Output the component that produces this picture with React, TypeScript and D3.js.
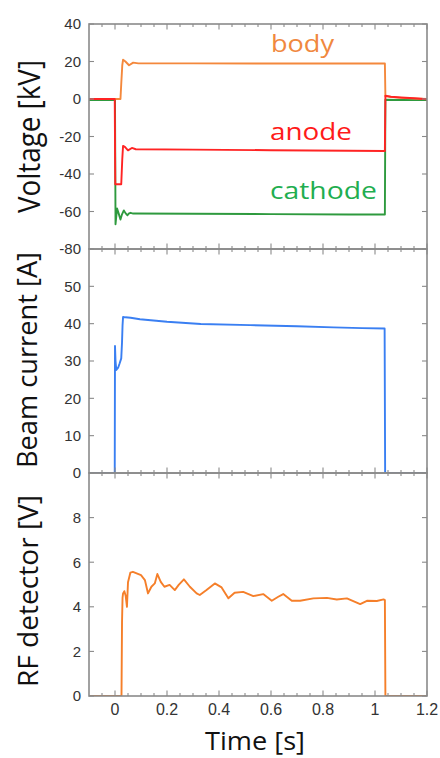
import React from "react";
import * as d3 from "d3";

// tick labels
const timeTicks = [0, 0.2, 0.4, 0.6, 0.8, 1, 1.2];
const voltTicks = [-80, -60, -40, -20, 0, 20, 40];
const currentTicks = [0, 10, 20, 30, 40, 50];
const rfTicks = [0, 2, 4, 6, 8];

// voltage traces [kV]
const bodyT = [-0.1, 0.021, 0.024, 0.028, 0.031, 0.04, 0.054, 0.07, 0.09, 0.3, 0.6, 0.9, 1.038, 1.04, 1.1, 1.2];
const bodyV = [0, 0, 8, 18, 21, 20, 18, 19.4, 19.0, 19.0, 18.9, 18.9, 18.9, 1.5, 0.6, 0];
const anodeT = [-0.1, -0.001, 0.001, 0.024, 0.028, 0.031, 0.038, 0.05, 0.065, 0.08, 0.3, 0.6, 0.9, 1.038, 1.04, 1.06, 1.1, 1.15, 1.2];
const anodeV = [0, 0, -45.5, -45.5, -32, -25, -25.5, -27.4, -26.1, -26.8, -27, -27.3, -27.6, -27.7, 1.8, 1.2, 0.8, 0.4, -0.1];
const cathodeT = [-0.1, 0, 0.002, 0.008, 0.014, 0.021, 0.027, 0.034, 0.041, 0.048, 0.054, 0.06, 0.07, 0.3, 0.6, 0.9, 1.038, 1.04, 1.1, 1.2];
const cathodeV = [-0.6, -0.6, -66.8, -58.4, -61, -64.3, -61.5, -59.4, -61, -62, -61, -60.7, -61.1, -61.2, -61.4, -61.6, -61.6, -0.4, -0.5, -0.6];

// beam current [A]
const beamT = [-0.1, -0.001, 0.0, 0.002, 0.005, 0.012, 0.018, 0.024, 0.027, 0.029, 0.031, 0.04, 0.06, 0.096, 0.2, 0.33, 0.52, 0.7, 0.84, 0.95, 1.037, 1.039, 1.2];
const beamV = [0, 0, 34, 30, 27.6, 28.2, 29.4, 30.7, 35, 39.5, 41.8, 41.7, 41.6, 41.2, 40.5, 39.9, 39.6, 39.3, 39.0, 38.8, 38.7, 0, 0];

// RF detector [V]
const rfT = [-0.1, 0.025, 0.027, 0.029, 0.031, 0.036, 0.041, 0.046, 0.05, 0.059, 0.069, 0.1, 0.115, 0.127, 0.14, 0.153, 0.163, 0.176, 0.19, 0.21, 0.23, 0.245, 0.265, 0.288, 0.314, 0.326, 0.352, 0.384, 0.41, 0.436, 0.46, 0.493, 0.532, 0.57, 0.603, 0.628, 0.647, 0.68, 0.712, 0.763, 0.815, 0.853, 0.892, 0.943, 0.969, 1.007, 1.033, 1.038, 1.04, 1.2];
const rfV = [0, 0, 3.3, 4.4, 4.6, 4.7, 4.5, 4.0, 5.1, 5.53, 5.57, 5.42, 5.2, 4.6, 4.9, 5.05, 5.47, 5.12, 4.9, 4.98, 4.75, 4.98, 5.23, 4.9, 4.6, 4.53, 4.75, 5.05, 4.87, 4.38, 4.63, 4.67, 4.48, 4.57, 4.27, 4.45, 4.57, 4.27, 4.27, 4.38, 4.4, 4.33, 4.38, 4.12, 4.27, 4.26, 4.33, 4.3, 0, 0];

const W = 440;
const H = 758;
const left = 89;
const right = 427;
const frame = "#8a8a8a";
const tickText = "#333";
const labelFont = "'Open Sans', 'Noto Sans', sans-serif";
const tickFont = "'Liberation Sans', Arial, sans-serif";

const x = d3.scaleLinear().domain([-0.1, 1.2]).range([left, right]);
const minorTimes = d3.range(-0.05, 1.2, 0.05).filter(t => Math.abs(t / 0.2 - Math.round(t / 0.2)) > 1e-6);

const zip = (t: number[], v: number[]) => t.map((d, i) => [d, v[i]] as [number, number]);

type PanelProps = {
  top: number;
  bottom: number;
  domain: [number, number];
  ticks: number[];
  series: { t: number[]; v: number[]; color: string }[];
  children?: (y: d3.ScaleLinear<number, number>) => React.ReactNode;
};

const Panel = ({ top, bottom, domain, ticks, series, children }: PanelProps) => {
  const y = d3.scaleLinear().domain(domain).range([bottom, top]);
  const line = d3
    .line<[number, number]>()
    .x(d => x(d[0]))
    .y(d => y(d[1]));
  return (
    <g>
      <defs>
        <clipPath id={`clip-${top}`}>
          <rect x={left} y={top} width={right - left} height={bottom - top} />
        </clipPath>
      </defs>
      <g clipPath={`url(#clip-${top})`}>
        {series.map((s, i) => (
          <path key={i} d={line(zip(s.t, s.v)) || ""} fill="none" stroke={s.color} strokeWidth={1.9} strokeLinejoin="round" />
        ))}
      </g>
      {children && children(y)}
      <g stroke={frame} strokeWidth={1.1}>
        {minorTimes.map(t => (
          <g key={`m${t}`}>
            <line x1={x(t)} x2={x(t)} y1={top} y2={top + 3} />
            <line x1={x(t)} x2={x(t)} y1={bottom} y2={bottom - 3} />
          </g>
        ))}
        {timeTicks.map(t => (
          <g key={`M${t}`}>
            <line x1={x(t)} x2={x(t)} y1={top} y2={top + 5.5} />
            <line x1={x(t)} x2={x(t)} y1={bottom} y2={bottom - 5.5} />
          </g>
        ))}
        {ticks.map(v => (
          <g key={`y${v}`}>
            <line x1={left} x2={left + 5} y1={y(v)} y2={y(v)} />
            <line x1={right} x2={right - 5} y1={y(v)} y2={y(v)} />
          </g>
        ))}
      </g>
      <rect x={left} y={top} width={right - left} height={bottom - top} fill="none" stroke={frame} strokeWidth={1.6} />
      <g fontFamily={tickFont} fontSize={15} fill={tickText} textAnchor="end">
        {ticks.map(v => (
          <text key={v} x={81} y={y(v)} dy="0.36em">
            {v}
          </text>
        ))}
      </g>
    </g>
  );
};

export default function App() {
  const p1: [number, number] = [24, 249];
  const p2: [number, number] = [249, 473];
  const p3: [number, number] = [473, 696];
  return (
    <svg width={W} height={H} style={{ display: "block", position: "absolute", left: 0, top: 0, background: "#fff" }}>
      <Panel
        top={p1[0]}
        bottom={p1[1]}
        domain={[-80, 40]}
        ticks={voltTicks}
        series={[
          { t: cathodeT, v: cathodeV, color: "#2e9a3e" },
          { t: bodyT, v: bodyV, color: "#f4883c" },
          { t: anodeT, v: anodeV, color: "#ff2424" },
        ]}
      >
        {y => (
          <g fontFamily={labelFont} fontSize={24}>
            <text x={x(0.6)} y={y(25)} fill="#f0883e" textLength={63} lengthAdjust="spacingAndGlyphs">body</text>
            <text x={x(0.596)} y={y(-22)} fill="#ff1a1a" textLength={82} lengthAdjust="spacingAndGlyphs">anode</text>
            <text x={x(0.596)} y={y(-53.5)} fill="#1fae50" textLength={107} lengthAdjust="spacingAndGlyphs">cathode</text>
          </g>
        )}
      </Panel>
      <Panel
        top={p2[0]}
        bottom={p2[1]}
        domain={[0, 60]}
        ticks={currentTicks}
        series={[{ t: beamT, v: beamV, color: "#3a7ff2" }]}
      />
      <Panel
        top={p3[0]}
        bottom={p3[1]}
        domain={[0, 10]}
        ticks={rfTicks}
        series={[{ t: rfT, v: rfV, color: "#f57f2a" }]}
      />
      <g fontFamily={tickFont} fontSize={16} fill={tickText} textAnchor="middle">
        {timeTicks.map(t => (
          <text key={t} x={x(t)} y={715}>
            {String(t)}
          </text>
        ))}
      </g>
      <g fontFamily={labelFont} fill="#111" textAnchor="middle">
        <text x={255} y={750} fontSize={26} textLength={100} lengthAdjust="spacingAndGlyphs">Time [s]</text>
        <text transform="translate(40,136.5) rotate(-90)" fontSize={31} textLength={153} lengthAdjust="spacingAndGlyphs">Voltage [kV]</text>
        <text transform="translate(37,360) rotate(-90)" fontSize={27} textLength={216} lengthAdjust="spacingAndGlyphs">Beam current [A]</text>
        <text transform="translate(38,591) rotate(-90)" fontSize={28} textLength={192} lengthAdjust="spacingAndGlyphs">RF detector [V]</text>
      </g>
    </svg>
  );
}
